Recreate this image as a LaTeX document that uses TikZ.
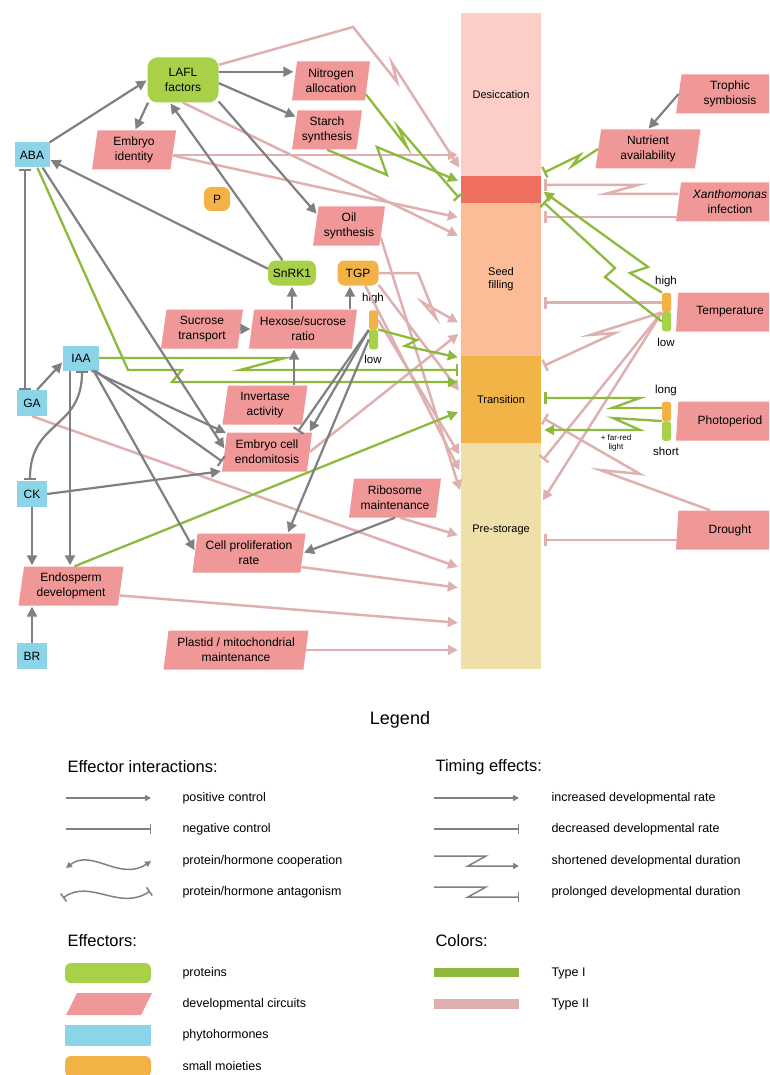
\documentclass[tikz,border=0pt]{standalone}
\usepackage{fontspec}
\setmainfont{Liberation Sans}
\usetikzlibrary{positioning,shapes.geometric,arrows.meta}
\definecolor{effgrey}{RGB}{128,128,128}
\definecolor{typeIgreen}{RGB}{141,185,60}
\definecolor{typeIIpink}{RGB}{222,176,176}
\definecolor{protgreen}{RGB}{168,208,72}
\definecolor{circpink}{RGB}{240,152,152}
\definecolor{hormblue}{RGB}{140,212,232}
\definecolor{moiorange}{RGB}{243,178,70}
\definecolor{desicc}{RGB}{253,205,200}
\definecolor{dryband}{RGB}{240,110,96}
\definecolor{filling}{RGB}{252,188,152}
\definecolor{transit}{RGB}{242,180,70}
\definecolor{prestor}{RGB}{238,224,168}

\begin{document}
\begin{tikzpicture}[x=1pt,y=-1pt,
lbl/.style={font=\fontsize{12}{15}\selectfont, align=center, inner sep=0pt},
prot/.style={lbl, rectangle, rounded corners=8pt, fill=protgreen},
horm/.style={lbl, rectangle, fill=hormblue, minimum width=30pt, minimum height=26pt},
moi/.style={lbl, rectangle, rounded corners=7pt, fill=moiorange},
circ/.style={lbl, trapezium, trapezium left angle=78, trapezium right angle=102,
  trapezium stretches body=true, fill=circpink, minimum height=39pt, inner xsep=3pt},
stage/.style={rectangle, inner sep=0pt, minimum width=80pt, font=\fontsize{11}{13}\selectfont, align=center},
togg/.style={rectangle, rounded corners=2.5pt, inner sep=0pt, minimum width=9pt, minimum height=19.5pt},
small/.style={font=\fontsize{11.5}{13}\selectfont},
eff/.style={draw=effgrey, line width=2.2pt, shorten >=1pt},
typeone/.style={draw=typeIgreen, line width=2.3pt},
typetwo/.style={draw=typeIIpink, line width=2.5pt},
tobar/.style={shorten >=3pt},
posctl/.style={-{Triangle[length=10pt,width=10pt]}},
negctl/.style={-{Bar[width=12pt]}},
mutual/.style={{Bar[width=12pt]}-{Bar[width=12pt]}},
leghead/.style={anchor=west, font=\fontsize{16.5}{18}\selectfont},
legtxt/.style={anchor=west, font=\fontsize{12.5}{15}\selectfont},
legline/.style={draw=effgrey, line width=1.5pt},
legpos/.style={-{Triangle[length=6pt,width=6pt]}},
legneg/.style={-{Bar[width=10pt]}}
]
\path[use as bounding box, clip] (0,0) rectangle (769,1075);

\node[stage, fill=desicc, minimum height=163pt] (desic) at (501,94.5) {Desiccation};
\node[stage, fill=dryband, minimum height=27pt] (dryb) at (501,189.5) {};
\node[stage, fill=filling, minimum height=153pt] (seedf) at (501,279.5) {Seed\\filling};
\node[stage, fill=transit, minimum height=87pt] (trans) at (501,399.5) {Transition};
\node[stage, fill=prestor, minimum height=226pt] (prest) at (501,556) {};
\node[stage] (prestlbl) at (501,530) {Pre-storage};

\node[horm, minimum width=35pt, minimum height=25pt] (ABA) at (32,155) {ABA};
\node[horm] (GA) at (32,403) {GA};
\node[horm, minimum width=36pt, minimum height=25pt] (IAA) at (81,358) {IAA};
\node[horm] (CK) at (32,494) {CK};
\node[horm] (BR) at (32,656) {BR};
\node[prot, minimum width=71pt, minimum height=45pt, rounded corners=10pt] (LAFL) at (183,80) {LAFL\\factors};
\node[prot, minimum width=48pt, minimum height=25pt] (SnRK1) at (292,273) {SnRK1};
\node[moi, minimum width=41pt, minimum height=25pt] (TGP) at (358,273) {TGP};
\node[moi, minimum width=26pt, minimum height=24pt] (P) at (217,199) {P};
\node[togg, fill=moiorange] (tgpH) at (373.5,320) {};
\node[togg, fill=protgreen] (tgpL) at (373.5,339.5) {};
\node[small] (tgphigh) at (373,299) {high};
\node[small] (tgplow) at (373,359) {low};

\node[circ, minimum width=84pt] (EmbId) at (134,150) {Embryo\\identity};
\node[circ, minimum width=78pt] (Nitro) at (331,81) {Nitrogen\\allocation};
\node[circ, minimum width=70pt] (Starch) at (327,130) {Starch\\synthesis};
\node[circ, minimum width=72pt] (Oil) at (349,226) {Oil\\synthesis};
\node[circ, minimum width=82pt] (SucT) at (202,329) {Sucrose\\transport};
\node[circ, minimum width=108pt] (Hexo) at (303,329) {Hexose/sucrose\\ratio};
\node[circ, minimum width=85pt] (Inv) at (265,405) {Invertase\\activity};
\node[circ, minimum width=90pt] (Endo) at (267,452) {Embryo cell\\endomitosis};
\node[circ, minimum width=92pt] (Ribo) at (395,498) {Ribosome\\maintenance};
\node[circ, minimum width=113pt] (CellP) at (249,553) {Cell proliferation\\rate};
\node[circ, minimum width=105pt] (EndoS) at (71,586) {Endosperm\\development};
\node[circ, minimum width=145pt] (Plast) at (236,650) {Plastid / mitochondrial\\maintenance};
\node[circ, minimum width=108pt] (Troph) at (730,94) {Trophic\\symbiosis};
\node[circ, minimum width=105pt] (Nutr) at (648,149) {Nutrient\\availability};
\node[circ, minimum width=108pt] (Xan) at (730,202) {\textit{Xanthomonas}\\infection};
\node[circ, minimum width=108pt] (Temp) at (730,312) {Temperature};
\node[circ, minimum width=108pt] (Photo) at (730,421) {Photoperiod};
\node[circ, minimum width=108pt] (Drought) at (730,530) {Drought};

\node[togg, fill=moiorange] (tmpH) at (666.5,302.5) {};
\node[togg, fill=protgreen] (tmpL) at (666.5,321.5) {};
\node[togg, fill=moiorange] (phL) at (666.5,411.5) {};
\node[togg, fill=protgreen] (phS) at (666.5,431) {};
\node[small] (tmphigh) at (666,282) {high};
\node[small] (tmplow) at (666,342) {low};
\node[small] (phlong) at (666,391) {long};
\node[small] (phshort) at (666,451) {short};
\node[font=\fontsize{8}{9}\selectfont, align=center] (farred) at (616,443) {+ far-red\\light};

\draw[typetwo,posctl,tobar] (LAFL.23) -- (353,27) -- (397,82) -- (392,63) -- (desic.west |- 0,170);
\path (EmbId.east |- 0,155) edge[typetwo,posctl,tobar] (desic.west |- 0,155);
\path (EmbId.-8) edge[typetwo,posctl,tobar] (seedf.west |- 0,218);
\path (LAFL.south) edge[typetwo,posctl,tobar] (seedf.west |- 0,237);
\path (Endo.east) edge[typetwo,posctl,tobar] (seedf.west |- 0,332);
\draw[typetwo,posctl,tobar] (TGP.east) -- (418,273) -- (436,318) -- (422,302) -- (seedf.west |- 0,324);
\path (TGP.-30) edge[typetwo,posctl,tobar] (trans.west |- 0,393);
\path (tgpH.east) edge[typetwo,posctl,tobar] (prest.west |- 0,457);
\path (TGP.-60) edge[typetwo,posctl,tobar] (prest.west |- 0,473);
\path (Oil.-20) edge[typetwo,posctl,tobar] (prest.west |- 0,493);
\path (GA.south) edge[typetwo,posctl,tobar] (prest.west |- 0,568);
\path (Ribo.-76) edge[typetwo,posctl,tobar] (prest.west |- 0,536);
\path (CellP.-15) edge[typetwo,posctl,tobar] (prest.west |- 0,588);
\path (EndoS.-11) edge[typetwo,posctl,tobar] (prest.west |- 0,623);
\path (Plast.east) edge[typetwo,posctl,tobar] (Plast.east -| prest.west);
\draw[typetwo,negctl,tobar] (Xan.west |- 0,194) -- (605,194) -- (638,185) -- (dryb.east |- 0,185);
\path (Xan.west |- 0,217) edge[typetwo,negctl,tobar] (seedf.east |- 0,217);
\path (tmpH.west) edge[typetwo,negctl,tobar] (tmpH.west -| seedf.east);
\draw[typetwo,negctl,tobar] (tmpH.south west) -- (590,335) -- (615,333) -- (trans.east |- 0,367);
\path (tmpH.south west) edge[typetwo,negctl,tobar] (prest.east |- 0,462);
\path (tmpH.south west) edge[typetwo,posctl,tobar] (prest.east |- 0,503);
\draw[typetwo,negctl,tobar] (Drought.north west) -- (600,470) -- (640,474) -- (trans.east |- 0,417);
\path (Drought.west |- 0,540) edge[typetwo,negctl,tobar] (prest.east |- 0,540);

\draw[typeone,negctl,tobar] (Nitro.-21) -- (407,147) -- (398,127) -- (dryb.west |- 0,200);
\draw[typeone,posctl,tobar] (Starch.south) -- (387,175) -- (377,147) -- (dryb.west |- 0,182);
\draw[typeone,posctl,tobar] (ABA.-67) -- (128,370) -- (182,370) -- (172,382) -- (trans.west |- 0,382);
\draw[typeone,negctl,tobar] (IAA.east) -- (285,358) -- (240,370) -- (trans.west |- 0,370);
\draw[typeone,posctl,tobar] (tgpL.north east) -- (417,340) -- (405,346) -- (trans.west |- 0,358);
\path (EndoS.80) edge[typeone,posctl,tobar] (trans.west |- 0,411);
\draw[typeone,negctl,tobar] (Nutr.west) -- (572,166) -- (580,155) -- (dryb.east |- 0,174);
\draw[typeone,posctl,tobar] (tmpH.north west) -- (630,273) -- (648,267) -- (dryb.east |- 0,190);
\draw[typeone,negctl,tobar] (tmpL.west) -- (605,277) -- (615,268) -- (dryb.east |- 0,200);
\draw[typeone,negctl,tobar] (phL.west |- 0,408) -- (612,408) -- (640,398) -- (trans.east |- 0,398);
\draw[typeone,posctl,tobar] (phS.north west) -- (613,418) -- (640,430) -- (trans.east |- 0,430);

\path (ABA.north east) edge[eff,posctl] (LAFL.west);
\path (LAFL.13) edge[eff,posctl] (LAFL.13 -| Nitro.west);
\path (LAFL.-5) edge[eff,posctl] (Starch.157);
\path (LAFL.213) edge[eff,posctl] (EmbId.87);
\path (LAFL.-31) edge[eff,posctl] (Oil.160);
\path (SnRK1.127) edge[eff,posctl] (LAFL.-120);
\path (SnRK1.170) edge[eff,posctl] (ABA.-15);
\path (Hexo.north -| SnRK1) edge[eff,posctl] (SnRK1.south);
\path (Hexo.north -| 350,0) edge[eff,posctl] (TGP.south -| 350,0);
\path (SucT) edge[eff,posctl] (Hexo);
\path (Inv.north -| 294,0) edge[eff,posctl] (Hexo.south -| 294,0);
\path (IAA.-50) edge[eff,posctl] (Endo.155);
\path (ABA.-50) edge[eff,posctl] (Endo.176);
\path (IAA.-42) edge[eff,negctl] (Endo.193);
\path (CK.east) edge[eff,posctl] (Endo.203);
\path (IAA.-45) edge[eff,posctl] (CellP.178);
\path (IAA.south -| 70,0) edge[eff,posctl] (EndoS.north -| 70,0);
\draw[eff,mutual] (IAA.south -| 82,0) .. controls (82,430) and (30,420) .. (CK.north -| 30,0);
\path (GA.69) edge[eff,posctl] (IAA.192);
\path (GA.north -| 25,0) edge[eff,mutual] (ABA.south -| 25,0);
\path (CK.south) edge[eff,posctl] (EndoS.north -| CK.south);
\path (BR.north) edge[eff,posctl] (EndoS.south -| BR.north);
\path (tgpH.south west) edge[eff,negctl] (Endo.33);
\path (tgpH.south west) edge[eff,posctl] (Endo.25);
\path (tgpL.west) edge[eff,posctl] (CellP.27);
\path (Ribo.south) edge[eff,posctl] (CellP.east);
\path (Troph.west) edge[eff,posctl] (Nutr.north);

\node[font=\fontsize{18}{20}\selectfont] (legtitle) at (400,720) {Legend};
\node[leghead] (effint) at (64,767) {Effector interactions:};
\node[leghead] (timing) at (432,767) {Timing effects:};
\node[leghead] (effrs) at (64,941) {Effectors:};
\node[leghead] (colrs) at (432,941) {Colors:};

\coordinate (k1a) at (66,798); \coordinate (k1b) at (151,798);
\coordinate (k2a) at (66,829); \coordinate (k2b) at (151,829);
\coordinate (k3a) at (66,868); \coordinate (k3b) at (151,861);
\coordinate (k4a) at (63,898); \coordinate (k4b) at (150,891);
\draw[legline,legpos] (k1a) -- (k1b);
\draw[legline,legneg] (k2a) -- (k2b);
\draw[legline,{Triangle[length=6pt,width=6pt]}-{Triangle[length=6pt,width=6pt]}] (k3a) .. controls (92,848) and (120,882) .. (k3b);
\draw[legline,{Bar[width=10pt]}-{Bar[width=10pt]}] (k4a) .. controls (90,878) and (120,912) .. (k4b);
\node[legtxt] (k1t) at (179,798) {positive control};
\node[legtxt] (k2t) at (179,829) {negative control};
\node[legtxt] (k3t) at (179,861) {protein/hormone cooperation};
\node[legtxt] (k4t) at (179,892) {protein/hormone antagonism};

\coordinate (t1a) at (434,798); \coordinate (t1b) at (519,798);
\coordinate (t2a) at (434,829); \coordinate (t2b) at (519,829);
\coordinate (t3a) at (434,856); \coordinate (t3b) at (519,866);
\coordinate (t4a) at (434,887); \coordinate (t4b) at (519,897);
\draw[legline,legpos] (t1a) -- (t1b);
\draw[legline,legneg] (t2a) -- (t2b);
\draw[legline,legpos] (t3a) -- (486,856) -- (468,866) -- (t3b);
\draw[legline,legneg] (t4a) -- (486,887) -- (468,897) -- (t4b);
\node[legtxt] (t1t) at (548,798) {increased developmental rate};
\node[legtxt] (t2t) at (548,829) {decreased developmental rate};
\node[legtxt] (t3t) at (548,861) {shortened developmental duration};
\node[legtxt] (t4t) at (548,892) {prolonged developmental duration};

\node[prot, minimum width=86pt, minimum height=20pt, rounded corners=6pt] (kprot) at (108,973) {};
\fill[circpink] (66,1015) -- (77,993) -- (152,993) -- (141,1015) -- cycle;
\node[horm, minimum width=86pt, minimum height=21pt] (khorm) at (108,1035.5) {};
\node[moi, minimum width=86pt, minimum height=21pt, rounded corners=6pt] (kmoi) at (108,1066.5) {};
\node[legtxt] (kprott) at (179,973) {proteins};
\node[legtxt] (kcirct) at (179,1004) {developmental circuits};
\node[legtxt] (khormt) at (179,1035) {phytohormones};
\node[legtxt] (kmoit) at (179,1066) {small moieties};

\node[rectangle, fill=typeIgreen, minimum width=85pt, minimum height=9pt, inner sep=0pt] (ktypeI) at (476.5,972.5) {};
\node[rectangle, fill=typeIIpink, minimum width=85pt, minimum height=10pt, inner sep=0pt] (ktypeII) at (476.5,1004) {};
\node[legtxt] (ktypeIt) at (548,973) {Type I};
\node[legtxt] (ktypeIIt) at (548,1004) {Type II};
\end{tikzpicture}
\end{document}
